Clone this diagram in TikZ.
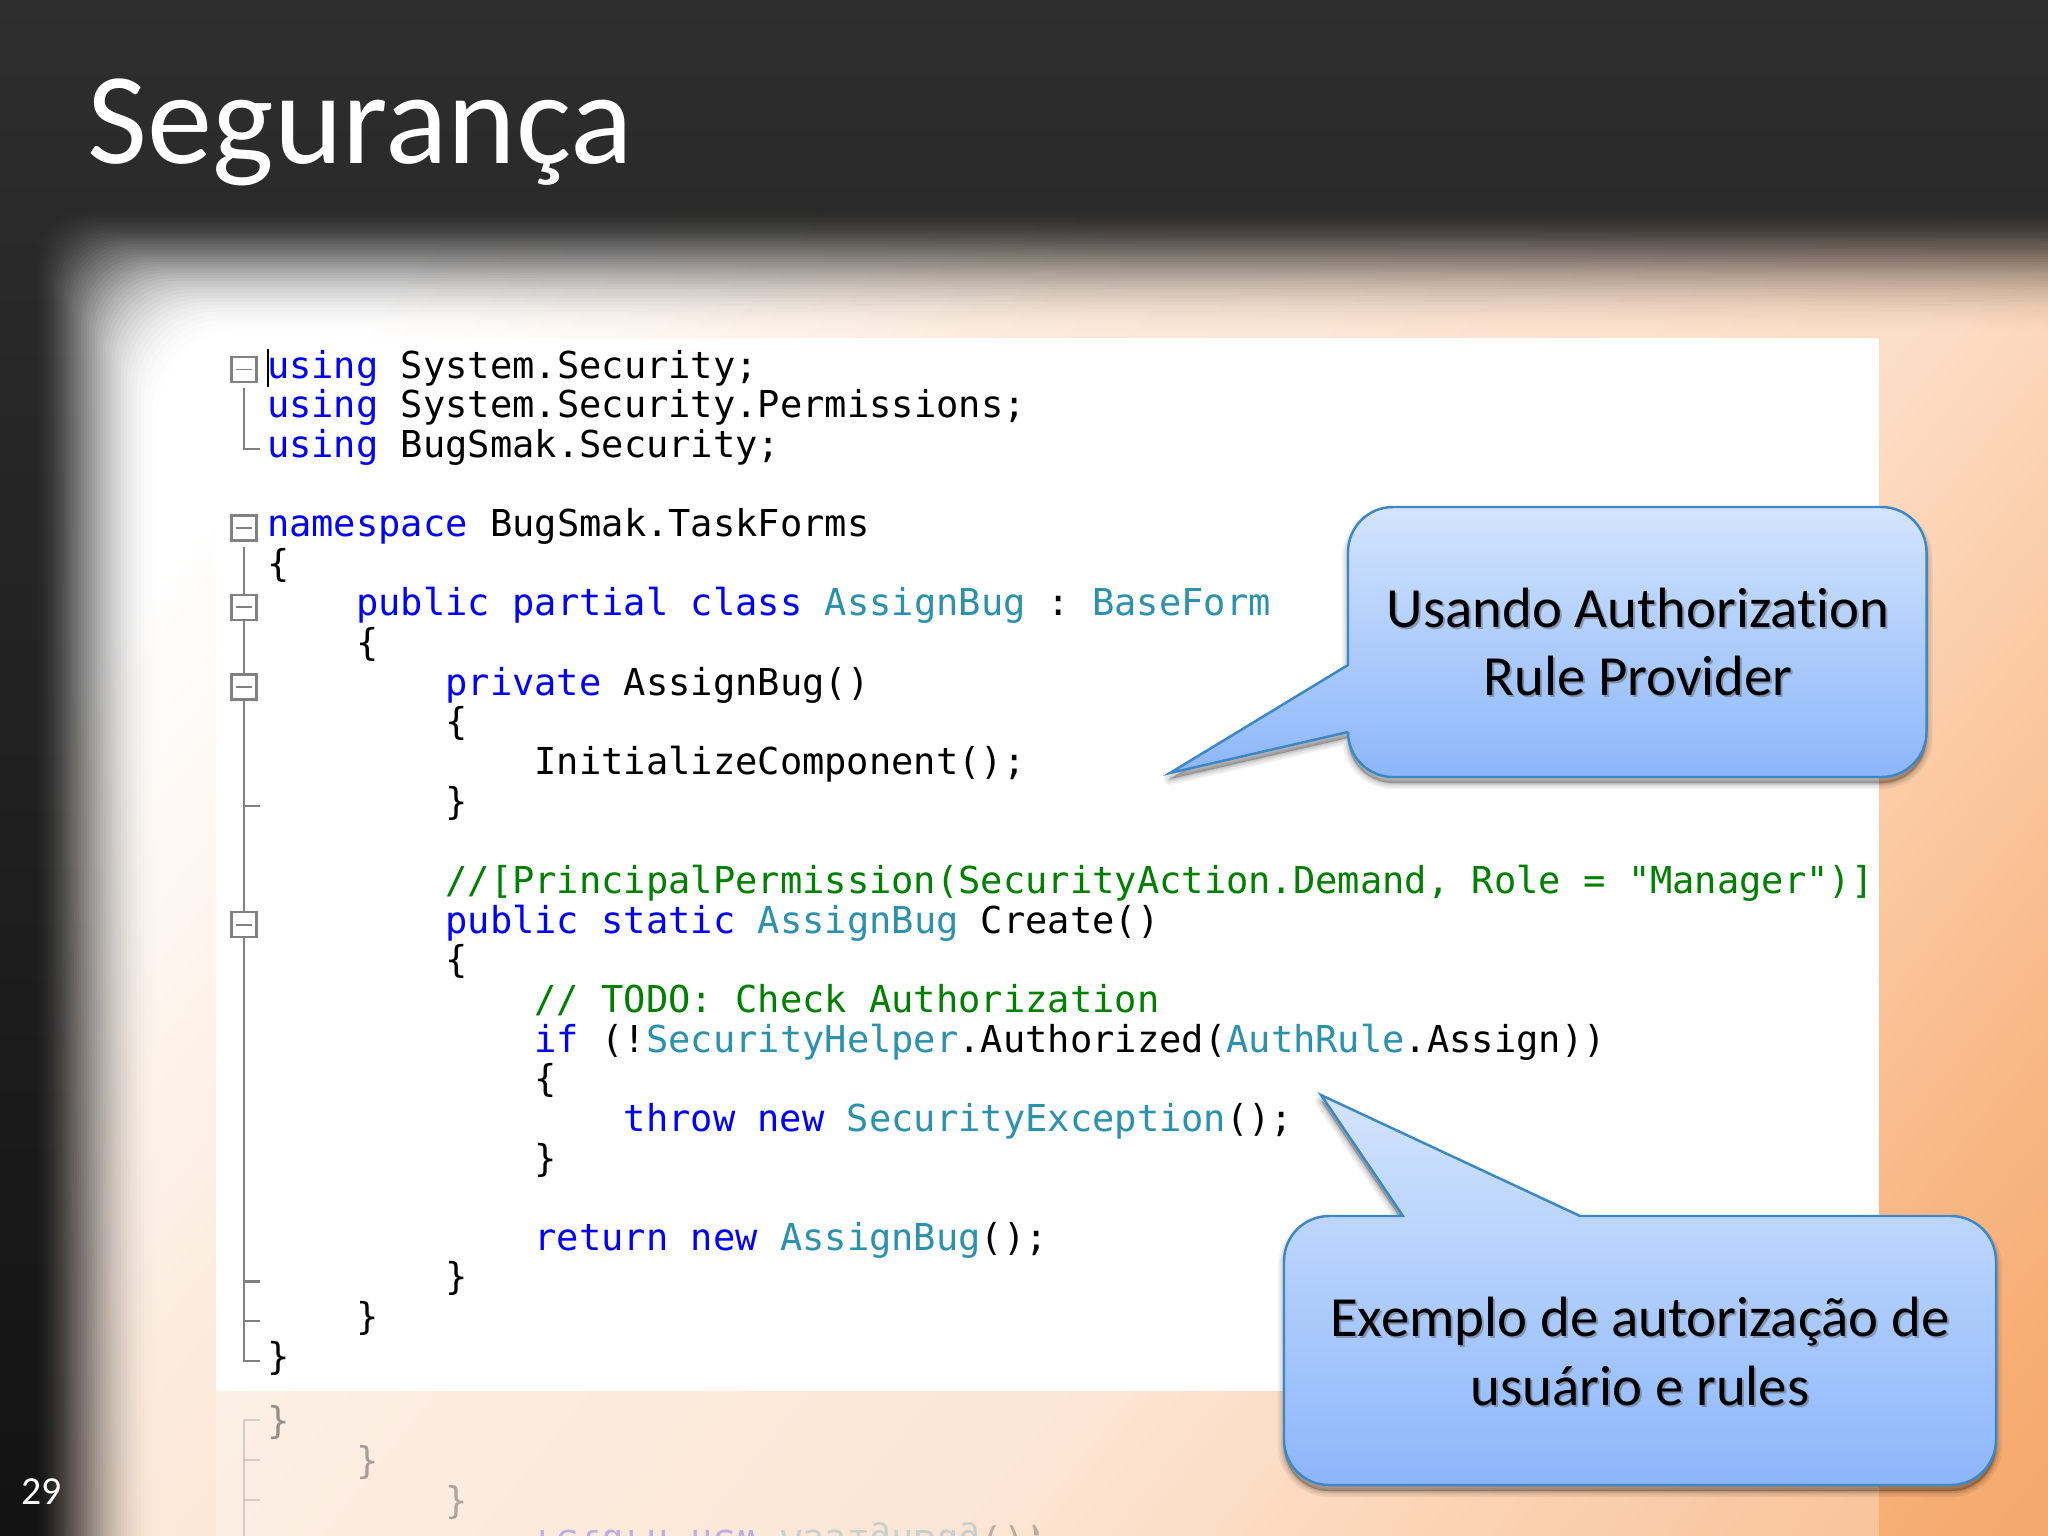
\documentclass[tikz,border=0pt]{standalone}
\usepackage{fontspec}
\setmainfont{Carlito}[Ligatures=NoCommon]
\newfontfamily\codefont{DejaVu Sans Mono}
\definecolor{kwblue}{HTML}{0000FF}
\definecolor{tyteal}{HTML}{2B91AF}
\definecolor{cmgreen}{HTML}{008000}
\definecolor{foldgray}{HTML}{808080}
\definecolor{calloutline}{HTML}{3C87C8}
\definecolor{calloutTop}{HTML}{D3E4FD}
\definecolor{calloutBot}{HTML}{8CB6FA}
\definecolor{darkTop}{HTML}{2E2E2E}
\definecolor{darkBot}{HTML}{0E0E0E}
\definecolor{pA}{HTML}{FFFFFF}
\definecolor{pB}{HTML}{FCEADC}
\definecolor{pC}{HTML}{FCDCC4}
\definecolor{pD}{HTML}{FBC8A0}
\definecolor{pE}{HTML}{F8B684}
\definecolor{pF}{HTML}{F5A96C}
\pgfdeclarehorizontalshading{panelshade}{100bp}{color(0bp)=(pA); color(34.45bp)=(pA); color(44.85bp)=(pB); color(58.85bp)=(pC); color(64.5bp)=(pD); color(69.25bp)=(pE); color(74.4bp)=(pF); color(100bp)=(pF)}
\newcommand\kw[1]{\textcolor{kwblue}{#1}}
\newcommand\ty[1]{\textcolor{tyteal}{#1}}
\newcommand\cm[1]{\textcolor{cmgreen}{#1}}
\newcommand\calloutAshape{(1348,732) -- (1170,773) -- (1348,665) [rounded corners=0.45cm] -- (1348,507) -- (1926.5,507) -- (1926.5,777) -- (1348,777) [sharp corners] -- cycle}
\newcommand\calloutBshape{(1403,1216) -- (1321,1095) -- (1580,1216) [rounded corners=0.45cm] -- (1996,1216) -- (1996,1485) -- (1284,1485) -- (1284,1216) [sharp corners] -- cycle}
\tikzset{
  codeline/.style={anchor=base west, inner sep=0pt, outer sep=0pt, font=\codefont\fontsize{10.54}{12}\selectfont, text=black},
  foldbox/.style={draw=foldgray, line width=0.75pt, fill=white, minimum size=0.25cm, inner sep=0pt, outer sep=0pt},
  foldline/.style={draw=foldgray, line width=0.6pt},
  calloutbody/.style={draw=calloutline, line width=0.7pt, line join=miter, top color=calloutTop, bottom color=calloutBot},
  calloutshadow/.style={fill=black, draw=black, draw opacity=0.05, fill opacity=0.05, line join=round},
  callouttext/.style={anchor=base, inner sep=0pt, outer sep=0pt, font=\fontsize{16.15}{19}\selectfont, text=black},
  calloutglow/.style={callouttext, text=black!70, text opacity=0.4}
}
\begin{document}
\begin{tikzpicture}[x=0.01cm,y=-0.01cm]
\path[use as bounding box, clip] (0,0) rectangle (2048,1536);
% panel gradient
\begin{scope}[transform canvas={rotate around={-38.66:(1024,768)}}]
  \shade[shading=panelshade] (-256,-932) rectangle (2304,2468);
\end{scope}
% blurred dark frame
\foreach \k in {1,...,48}{
  \pgfmathsetmacro\tn{\k/48}
  \pgfmathsetmacro\tp{(\k-1)/48}
  \pgfmathsetmacro\An{3*\tn*\tn-2*\tn*\tn*\tn}
  \pgfmathsetmacro\Ap{3*\tp*\tp-2*\tp*\tp*\tp}
  \pgfmathsetmacro\al{min(1,(\An-\Ap)/(1-\Ap))}
  \pgfmathsetmacro\pp{\tn^0.75}
  \pgfmathsetmacro\lft{170-140*\pp}
  \pgfmathsetmacro\tpp{345-140*\pp}
  \pgfmathsetmacro\rr{0.9-0.4*\pp}
  \shade[even odd rule, opacity=\al, top color=darkTop, bottom color=darkBot]
    (-10,-10) rectangle (2200,1800)
    [rounded corners=\rr cm] (\lft,\tpp) rectangle (2190,1790);
}
% title and page number
\node[anchor=base west, inner sep=0pt, text=white, font=\fontsize{37.1}{44}\selectfont] (title) at (87,163) {Segurança};
\node[anchor=base west, inner sep=0pt, text=white, font=\fontsize{11.3}{13}\selectfont] (pagenum) at (21,1504) {29};
% code panel and its reflection
\fill[white] (216,338) rectangle (1879,1391);
\fill[white, fill opacity=0.28] (216,1391) rectangle (1879,1540);
\begin{scope}[shift={(0,2781)}, yscale=-1]
  \node[codeline, transform shape, text opacity=0.4] (rl25) at (267,1369.25) {\}};
  \node[codeline, transform shape, text opacity=0.33] (rl24) at (356.2,1329.6) {\}};
  \node[codeline, transform shape, text opacity=0.3] (rl23) at (445.4,1289.95) {\}};
  \node[codeline, transform shape, text opacity=0.25] (rl22) at (534.6,1250.3) {\kw{return new} \ty{AssignBug}();};
  \coordinate (rv25) at (244,1360.75);
  \coordinate (rv24) at (244,1321.1);
  \coordinate (rv23) at (244,1281.45);
  \coordinate (rv22) at (244,1240);
  \coordinate (rt25) at (260,1360.75);
  \coordinate (rt24) at (260,1321.1);
  \coordinate (rt23) at (260,1281.45);
  \draw[foldline, draw opacity=0.3] (rt25) -- (rv25) -- (rv22);
  \draw[foldline, draw opacity=0.3] (rv24) -- (rt24);
  \draw[foldline, draw opacity=0.3] (rv23) -- (rt23);
\end{scope}
% code
\node[codeline] (l0) at (267,378) {\kw{using} System.Security;};
\node[codeline] (l1) at (267,417.65) {\kw{using} System.Security.Permissions;};
\node[codeline] (l2) at (267,457.3) {\kw{using} BugSmak.Security;};
\node[codeline] (l4) at (267,536.6) {\kw{namespace} BugSmak.TaskForms};
\node[codeline] (l5) at (267,576.25) {\{};
\node[codeline] (l6) at (356.2,615.9) {\kw{public partial class} \ty{AssignBug} : \hspace*{-2.2pt}\ty{BaseForm}};
\node[codeline] (l7) at (356.2,655.55) {\{};
\node[codeline] (l8) at (445.4,695.2) {\kw{private} AssignBug()};
\node[codeline] (l9) at (445.4,734.85) {\{};
\node[codeline] (l10) at (534.6,774.5) {InitializeComponent();};
\node[codeline] (l11) at (445.4,814.15) {\}};
\node[codeline] (l13) at (445.4,893.45) {\cm{//[PrincipalPermission(SecurityAction.Demand, Role = "Manager")]}};
\node[codeline] (l14) at (445.4,933.1) {\kw{public static} \ty{AssignBug} Create()};
\node[codeline] (l15) at (445.4,972.75) {\{};
\node[codeline] (l16) at (534.6,1012.4) {\cm{// TODO: Check Authorization}};
\node[codeline] (l17) at (534.6,1052.05) {\kw{if} (!\ty{SecurityHelper}.Authorized(\ty{AuthRule}.Assign))};
\node[codeline] (l18) at (534.6,1091.7) {\{};
\node[codeline] (l19) at (623.8,1131.35) {\kw{throw new} \ty{SecurityException}();};
\node[codeline] (l20) at (534.6,1171) {\}};
\node[codeline] (l22) at (534.6,1250.3) {\kw{return new} \ty{AssignBug}();};
\node[codeline] (l23) at (445.4,1289.95) {\}};
\node[codeline] (l24) at (356.2,1329.6) {\}};
\node[codeline] (l25) at (267,1369.25) {\}};
% caret
\coordinate (caretT) at (268,349);
\coordinate (caretB) at (268,387);
\draw[black, line width=0.5pt] (caretT) -- (caretB);
% fold margin
\foreach \nm/\yy in {f0/369.5,f4/528.1,f6/607.4,f8/686.7,f14/924.6}{
  \node[foldbox] (\nm) at (244,\yy) {};
  \draw[foldgray, line width=0.55pt] ([xshift=-0.08cm]\nm.center) -- ([xshift=0.08cm]\nm.center);
}
\coordinate (e2) at (244,448.8);
\coordinate (e2t) at (260,448.8);
\coordinate (e11) at (244,805.65);
\coordinate (e11t) at (260,805.65);
\coordinate (e23) at (244,1281.45);
\coordinate (e23t) at (260,1281.45);
\coordinate (e24) at (244,1321.1);
\coordinate (e24t) at (260,1321.1);
\coordinate (e25) at (244,1360.75);
\coordinate (e25t) at (260,1360.75);
\draw[foldline] ([yshift=-0.06cm]f0.south) -- (e2) -- (e2t);
\draw[foldline] ([yshift=-0.06cm]f4.south) -- (f6.north);
\draw[foldline] (f6.south) -- (f8.north);
\draw[foldline] (f8.south) -- (f14.north);
\draw[foldline] (f14.south) -- (e25) -- (e25t);
\draw[foldline] (e11) -- (e11t);
\draw[foldline] (e23) -- (e23t);
\draw[foldline] (e24) -- (e24t);
% callout shadows
\foreach \w in {0.5,1,1.5,2.5,3.5}{
  \path[calloutshadow, line width=\w pt, shift={(0,6)}] \calloutAshape;
  \path[calloutshadow, line width=\w pt, shift={(0,6)}] \calloutBshape;
}
% callouts
\path[calloutbody] \calloutAshape;
\path[calloutbody] \calloutBshape;
% callout text
\node[calloutglow] (a1s) at (1640,629.5) {Usando Authorization};
\node[calloutglow] (a2s) at (1640,697.5) {Rule Provider};
\node[calloutglow] (b1s) at (1642,1338.5) {Exemplo de autorização de};
\node[calloutglow] (b2s) at (1642,1407.5) {usuário e rules};
\node[callouttext] (a1) at (1638,627) {Usando Authorization};
\node[callouttext] (a2) at (1638,695) {Rule Provider};
\node[callouttext] (b1) at (1640,1336) {Exemplo de autorização de};
\node[callouttext] (b2) at (1640,1405) {usuário e rules};
\end{tikzpicture}
\end{document}
